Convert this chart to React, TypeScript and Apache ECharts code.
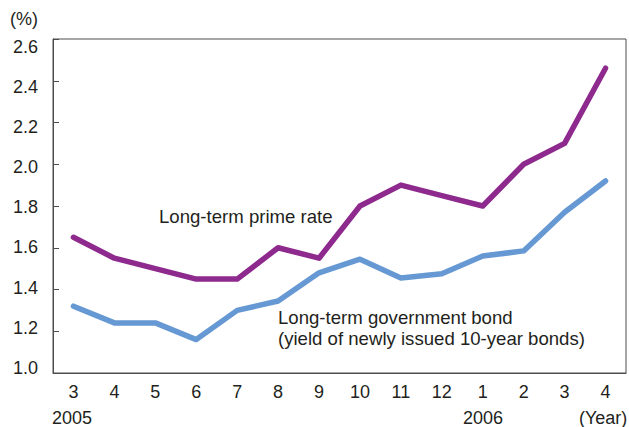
import React, { useEffect, useRef } from "react";
import * as echarts from "echarts";

const months = ["2005-3", "2005-4", "2005-5", "2005-6", "2005-7", "2005-8", "2005-9", "2005-10", "2005-11", "2005-12", "2006-1", "2006-2", "2006-3", "2006-4"];
const primeRate = [1.65, 1.55, 1.5, 1.45, 1.45, 1.6, 1.55, 1.8, 1.9, 1.85, 1.8, 2.0, 2.1, 2.46];
const govBond = [1.32, 1.24, 1.24, 1.16, 1.3, 1.345, 1.48, 1.545, 1.455, 1.475, 1.56, 1.585, 1.77, 1.92];
const yTickValues = [1.0, 1.2, 1.4, 1.6, 1.8, 2.0, 2.2, 2.4, 2.6];

const FONT = "'Liberation Sans', Arial, Helvetica, sans-serif";
const TXT = "#231f20";
const AX = "#4d4d4d";
const ANN = `18.6px ${FONT}`;

export default function App() {
  const ref = useRef<HTMLDivElement>(null);
  useEffect(() => {
    if (!ref.current) return;
    const chart = echarts.init(ref.current, null, { renderer: "svg" });
    chart.setOption({
      animation: false,
      textStyle: { fontFamily: FONT },
      grid: {
        left: 53,
        top: 39,
        right: 3,
        bottom: 54,
        show: true,
        borderColor: AX,
        borderWidth: 1,
        backgroundColor: "transparent",
      },
      xAxis: {
        type: "category",
        data: months,
        boundaryGap: true,
        axisLine: { lineStyle: { color: AX, width: 1 } },
        axisTick: { inside: true, length: 6, interval: 0, lineStyle: { color: AX } },
        axisLabel: {
          interval: 0,
          margin: 10,
          color: TXT,
          fontSize: 18,
          fontFamily: FONT,
          formatter: (v: string) => v.split("-")[1],
        },
        splitLine: { show: false },
      },
      yAxis: [
        {
          type: "value",
          min: 1.0,
          max: 2.6,
          interval: 0.2,
          axisLine: { show: true, lineStyle: { color: AX, width: 1 } },
          axisTick: { show: true, inside: true, length: 6, lineStyle: { color: AX } },
          axisLabel: { show: false },
          splitLine: { show: false },
        },
        {
          type: "value",
          position: "left",
          min: 0.975,
          max: 2.638,
          axisLine: { show: false },
          axisTick: { show: false },
          splitLine: { show: false },
          axisLabel: {
            customValues: yTickValues,
            margin: 15,
            color: TXT,
            fontSize: 18,
            fontFamily: FONT,
            formatter: (v: number) => v.toFixed(1),
          },
        },
      ],
      series: [
        {
          name: "Long-term prime rate",
          type: "line",
          data: primeRate,
          symbol: "none",
          lineStyle: { color: "#8e2a8e", width: 5.5, cap: "round", join: "round" },
          itemStyle: { color: "#8e2a8e" },
        },
        {
          name: "Long-term government bond",
          type: "line",
          data: govBond,
          symbol: "none",
          lineStyle: { color: "#6699d3", width: 5.5, cap: "round", join: "round" },
          itemStyle: { color: "#6699d3" },
        },
      ],
      graphic: [
        { type: "text", left: 10, top: 10, style: { text: "(%)", fill: TXT, font: `18px ${FONT}` } },
        { type: "text", left: 52, top: 409, style: { text: "2005", fill: TXT, font: `18px ${FONT}` } },
        { type: "text", left: 463, top: 409, style: { text: "2006", fill: TXT, font: `18px ${FONT}` } },
        { type: "text", left: 579, top: 409, style: { text: "(Year)", fill: TXT, font: `18px ${FONT}` } },
        { type: "text", left: 159, top: 207, style: { text: "Long-term prime rate", fill: TXT, font: ANN } },
        { type: "text", left: 278, top: 308, style: { text: "Long-term government bond", fill: TXT, font: ANN } },
        { type: "text", left: 278, top: 329, style: { text: "(yield of newly issued 10-year bonds)", fill: TXT, font: ANN } },
      ],
    });
    return () => chart.dispose();
  }, []);
  return <div ref={ref} style={{ width: 629, height: 427, position: "absolute", left: 0, top: 0 }} />;
}
